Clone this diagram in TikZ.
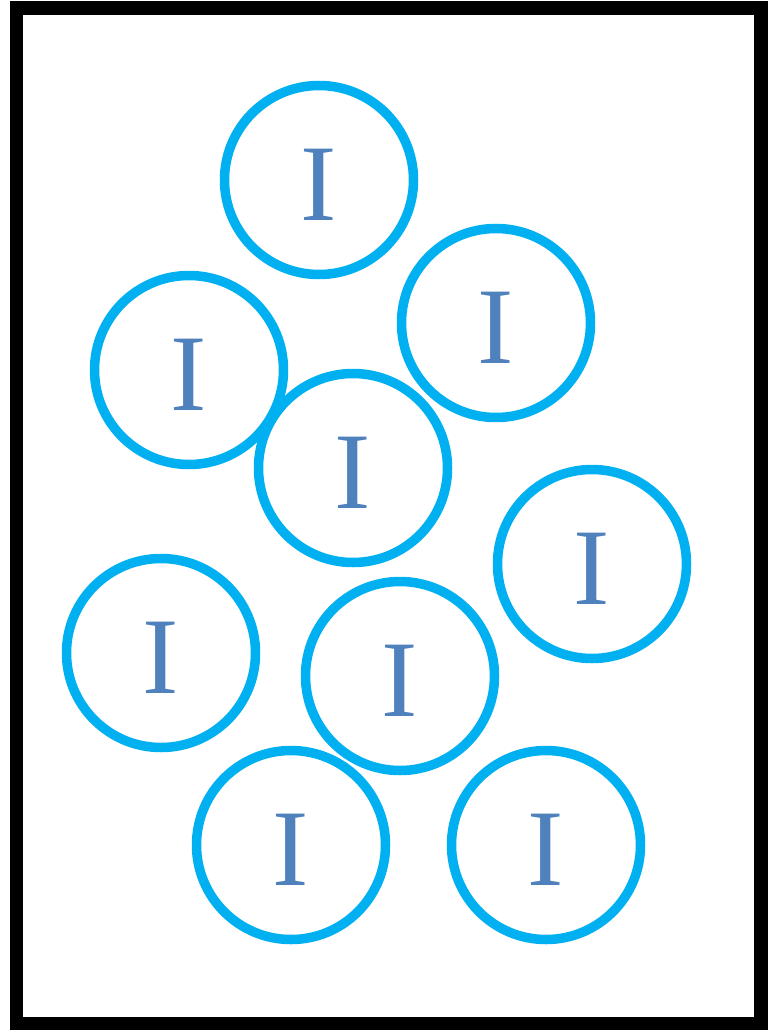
\documentclass[tikz,border=0pt]{standalone}
\usepackage{fontspec}
\setmainfont{Liberation Serif}
\usepackage{xcolor}
\definecolor{ringblue}{HTML}{00B0F0}
\definecolor{letterblue}{HTML}{4F81BD}
\tikzset{ring/.style={draw=ringblue, line width=9.5pt, circle, minimum size=189pt,
  inner sep=0pt, text=letterblue, text height=80pt, text depth=0pt,
  font=\fontsize{109}{109}\selectfont}}

\begin{document}
\begin{tikzpicture}[x=1pt,y=-1pt]
\useasboundingbox (0,0) rectangle (772,1030);
\draw[line width=13.5pt] (16.5,8) rectangle (761,1024);
%
\node[ring] (ionA) at (319,180) {I};
\node[ring] (ionB) at (496,323) {I};
\node[ring] (ionC) at (189,370) {I};
\node[ring] (ionD) at (353,468) {I};
\node[ring] (ionE) at (592,564) {I};
\node[ring] (ionF) at (161,653) {I};
\node[ring] (ionG) at (400,676) {I};
\node[ring] (ionH) at (291,845) {I};
\node[ring] (ionJ) at (546,845) {I};
\end{tikzpicture}
\end{document}
